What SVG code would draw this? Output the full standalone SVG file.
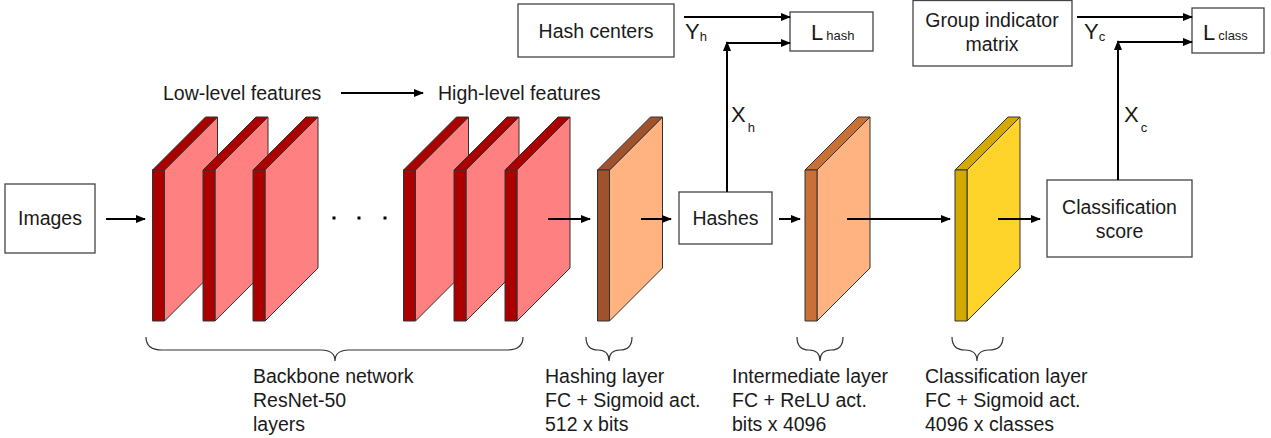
<svg xmlns="http://www.w3.org/2000/svg" width="1271" height="438" viewBox="0 0 1271 438">
<defs>
<marker id="ah" markerWidth="10" markerHeight="8" refX="9" refY="4" orient="auto" markerUnits="userSpaceOnUse">
<path d="M0,0 L10,4 L0,8 Z" fill="#000"/>
</marker>
</defs>
<style>
text{font-family:"Liberation Sans",Arial,sans-serif;font-size:19.5px;fill:#1a1a1a}
.box{fill:#fff;stroke:#444;stroke-width:1.3}
.con{fill:none;stroke:#000;stroke-width:2}
.brace{fill:none;stroke:#333;stroke-width:1.2}
.blk polygon,.blk rect{stroke:#333;stroke-width:1;stroke-linejoin:round}
.red .face{fill:#ff8080}.red .top,.red .strip{fill:#aa0000}
.hsh .face{fill:#ffb380}.hsh .top,.hsh .strip{fill:#a0522d}
.mid .face{fill:#ffb380}.mid .top,.mid .strip{fill:#c87137}
.yel .face{fill:#ffd42a}.yel .top,.yel .strip{fill:#d4aa00}
.big{font-size:22px}.sub{font-size:13px}
</style>

<g id="images"><rect class="box" x="5" y="184" width="90" height="69"/><text x="50" y="225" text-anchor="middle">Images</text></g>

<g id="backbone" class="red">
<g class="blk" transform="translate(152.5,0)"><polygon class="face" points="12,170 65,117 65,268 12,321"/><polygon class="top" points="0,170 53,117 65,117 12,170"/><rect class="strip" x="0" y="170" width="12" height="151"/></g>
<g class="blk" transform="translate(203,0)"><polygon class="face" points="12,170 65,117 65,268 12,321"/><polygon class="top" points="0,170 53,117 65,117 12,170"/><rect class="strip" x="0" y="170" width="12" height="151"/></g>
<g class="blk" transform="translate(253,0)"><polygon class="face" points="12,170 65,117 65,268 12,321"/><polygon class="top" points="0,170 53,117 65,117 12,170"/><rect class="strip" x="0" y="170" width="12" height="151"/></g>
<rect x="332.5" y="216.5" width="3" height="3" fill="#000"/><rect x="357.5" y="216.5" width="3" height="3" fill="#000"/><rect x="383.5" y="216.5" width="3" height="3" fill="#000"/>
<g class="blk" transform="translate(403.5,0)"><polygon class="face" points="12,170 65,117 65,268 12,321"/><polygon class="top" points="0,170 53,117 65,117 12,170"/><rect class="strip" x="0" y="170" width="12" height="151"/></g>
<g class="blk" transform="translate(454,0)"><polygon class="face" points="12,170 65,117 65,268 12,321"/><polygon class="top" points="0,170 53,117 65,117 12,170"/><rect class="strip" x="0" y="170" width="12" height="151"/></g>
<g class="blk" transform="translate(505,0)"><polygon class="face" points="12,170 65,117 65,268 12,321"/><polygon class="top" points="0,170 53,117 65,117 12,170"/><rect class="strip" x="0" y="170" width="12" height="151"/></g>
</g>
<g id="hashing-layer" class="hsh"><g class="blk" transform="translate(597.5,0)"><polygon class="face" points="12,170 65,117 65,268 12,321"/><polygon class="top" points="0,170 53,117 65,117 12,170"/><rect class="strip" x="0" y="170" width="12" height="151"/></g></g>
<g id="intermediate-layer" class="mid"><g class="blk" transform="translate(805,0)"><polygon class="face" points="12,170 65,117 65,268 12,321"/><polygon class="top" points="0,170 53,117 65,117 12,170"/><rect class="strip" x="0" y="170" width="12" height="151"/></g></g>
<g id="classification-layer" class="yel"><g class="blk" transform="translate(955,0)"><polygon class="face" points="12,170 65,117 65,268 12,321"/><polygon class="top" points="0,170 53,117 65,117 12,170"/><rect class="strip" x="0" y="170" width="12" height="151"/></g></g>

<g id="hashes"><rect class="box" x="679" y="192" width="93" height="52"/><text x="725.5" y="225" text-anchor="middle">Hashes</text></g>
<g id="class-score"><rect class="box" x="1047" y="180" width="145" height="77"/><text x="1119.5" y="214" text-anchor="middle">Classification</text><text x="1119.5" y="238" text-anchor="middle">score</text></g>
<g id="hash-centers"><rect class="box" x="518" y="4" width="156" height="53"/><text x="596" y="38" text-anchor="middle">Hash centers</text></g>
<g id="l-hash"><rect class="box" x="790" y="12" width="83" height="39"/><text x="811" y="39.5"><tspan class="big">L</tspan><tspan class="sub" dx="3">hash</tspan></text></g>
<g id="group-matrix"><rect class="box" x="913" y="0.5" width="159" height="65.5"/><text x="992" y="27" text-anchor="middle">Group indicator</text><text x="992" y="51" text-anchor="middle">matrix</text></g>
<g id="l-class"><rect class="box" x="1192" y="8" width="72" height="45"/><text x="1203" y="40"><tspan class="big">L</tspan><tspan class="sub" dx="3">class</tspan></text></g>

<g id="connectors">
<line class="con" x1="106" y1="219" x2="145" y2="219" marker-end="url(#ah)"/>
<line class="con" x1="548" y1="219" x2="590" y2="219" marker-end="url(#ah)"/>
<line class="con" x1="641" y1="219" x2="671" y2="219" marker-end="url(#ah)"/>
<line class="con" x1="779" y1="219" x2="800" y2="219" marker-end="url(#ah)"/>
<line class="con" x1="847" y1="219" x2="950" y2="219" marker-end="url(#ah)"/>
<line class="con" x1="998" y1="219" x2="1040" y2="219" marker-end="url(#ah)"/>
<line class="con" x1="341" y1="93" x2="423" y2="93" marker-end="url(#ah)"/>
<line class="con" x1="684" y1="17" x2="790" y2="17" marker-end="url(#ah)"/>
<line class="con" x1="727" y1="192" x2="727" y2="42" marker-end="url(#ah)"/>
<line class="con" x1="727" y1="43" x2="790" y2="43" marker-end="url(#ah)"/>
<line class="con" x1="1077" y1="17" x2="1192" y2="17" marker-end="url(#ah)"/>
<line class="con" x1="1118" y1="180" x2="1118" y2="41" marker-end="url(#ah)"/>
<line class="con" x1="1118" y1="42" x2="1192" y2="42" marker-end="url(#ah)"/>
</g>

<g id="labels">
<text x="163" y="100">Low-level features</text>
<text x="438" y="100">High-level features</text>
<text x="685" y="39"><tspan class="big">Y</tspan><tspan class="sub" dy="2">h</tspan></text>
<text x="1084" y="39"><tspan class="big">Y</tspan><tspan class="sub" dy="2">c</tspan></text>
<text x="731" y="122"><tspan class="big">X</tspan><tspan class="sub" dx="2" dy="10">h</tspan></text>
<text x="1124" y="122"><tspan class="big">X</tspan><tspan class="sub" dx="2" dy="10">c</tspan></text>
</g>

<g id="braces">
<path class="brace" d="M146,337 Q146,350 162,350 L321,350 Q335,350 335,361 Q335,350 349,350 L507,350 Q523,350 523,337"/>
<path class="brace" d="M586,337 Q586,350 598,350 Q609,350 609,361 Q609,350 620,350 Q632,350 632,337"/>
<path class="brace" d="M797,337 Q797,350 809,350 Q820,350 820,361 Q820,350 831,350 Q843,350 843,337"/>
<path class="brace" d="M952,337 Q952,350 965,350 Q977,350 977,361 Q977,350 989,350 Q1003,350 1003,337"/>
</g>

<g id="captions">
<text x="253" y="383">Backbone network</text><text x="253" y="407">ResNet-50</text><text x="253" y="431">layers</text>
<text x="545" y="383">Hashing layer</text><text x="545" y="407">FC + Sigmoid act.</text><text x="545" y="431">512 x bits</text>
<text x="732" y="383">Intermediate layer</text><text x="732" y="407">FC + ReLU act.</text><text x="732" y="431">bits x 4096</text>
<text x="925" y="383">Classification layer</text><text x="925" y="407">FC + Sigmoid act.</text><text x="925" y="431">4096 x classes</text>
</g>
</svg>
